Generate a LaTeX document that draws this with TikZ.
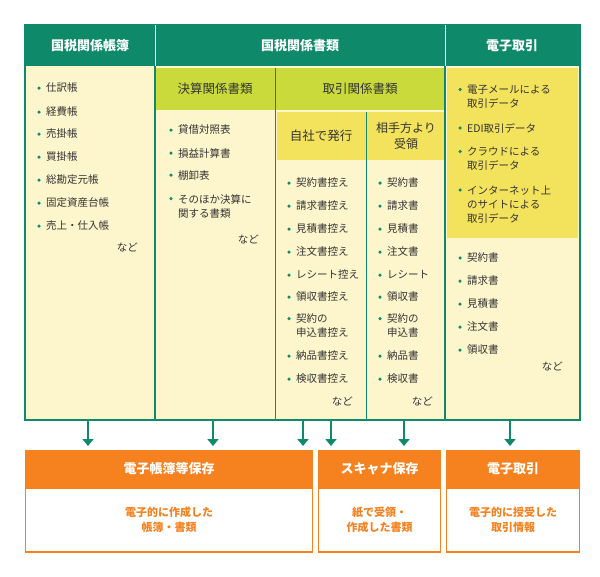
\documentclass[tikz,border=0pt]{standalone}
\usepackage{fontspec}
\usetikzlibrary{arrows.meta}
\setmainfont{Noto Sans CJK JP}
\definecolor{kgreen}{HTML}{0E8A6A}
\definecolor{kcream}{HTML}{FDF5CC}
\definecolor{klime}{HTML}{C9DA3A}
\definecolor{kyellow}{HTML}{F3E25C}
\definecolor{korange}{HTML}{F5821F}
\definecolor{ktext}{HTML}{333333}
\tikzset{
  head/.style={font=\fontsize{13}{15}\selectfont\bfseries, text=white},
  subhead/.style={font=\fontsize{12.5}{15}\selectfont, text=ktext},
  item/.style={font=\fontsize{10.5}{14}\selectfont, text=ktext, anchor=west, align=left, inner sep=0pt},
  nado/.style={font=\fontsize{10.5}{14}\selectfont, text=ktext, anchor=east, inner sep=0pt},
  bul/.style={circle, fill=kgreen, inner sep=0pt, minimum size=3.5pt},
  arr/.style={-{Triangle[length=7pt,width=11pt]}, kgreen, line width=2.5pt},
  ohead/.style={font=\fontsize{13}{15}\selectfont\bfseries, text=white},
  otext/.style={font=\fontsize{11}{15}\selectfont\bfseries, text=korange, align=center},
}
\begin{document}
\begin{tikzpicture}[x=1pt,y=-1pt]
  \useasboundingbox[fill=white] (0,0) rectangle (600,576);

  %bands
  \fill[kgreen] (25,25) rectangle (580,66);
  \fill[kcream] (25,66) rectangle (580,420);
  \fill[klime] (155,68) rectangle (445,110);
  \fill[kyellow] (277,112) rectangle (445,160);
  \fill[kyellow] (447,68) rectangle (578,238);
  \draw[kgreen, line width=1.5pt] (25,25) rectangle (580,420);
  \foreach \x in {155,445}{
    \draw[white, line width=1pt] (\x,25) -- (\x,66);
    \draw[kgreen, line width=1.5pt] (\x,66) -- (\x,420);
  }
  \draw[kgreen, line width=1pt] (275,68) -- (275,420);
  \draw[kgreen, line width=1pt] (366,112) -- (366,420);

  %headers
  \node[head] (h1) at (90,46) {国税関係帳簿};
  \node[head] (h2) at (300,46) {国税関係書類};
  \node[head] (h3) at (512,46) {電子取引};
  \node[subhead] (s1) at (215,89) {決算関係書類};
  \node[subhead] (s2) at (360,89) {取引関係書類};
  \node[subhead] (s3) at (321,136) {自社で発行};
  \node[subhead, align=center, font=\fontsize{12}{16}\selectfont] (s4) at (406,136) {相手方より\\受領};

  %items
  \foreach \y/\t in {88/仕訳帳,112/経費帳,134/売掛帳,157/買掛帳,180/総勘定元帳,203/固定資産台帳,226/売上・仕入帳}{
    \node[bul] at (39,\y) {};
    \node[item] at (46,\y) {\t};
  }
  \node[nado] (n1) at (138,247) {など};
  \foreach \y/\o/\t in {130/0/貸借対照表,153/0/損益計算書,175/0/棚卸表,206/7.5/{そのほか決算に\\関する書類}}{
    \node[bul] at (171,\y-\o) {};
    \node[item] at (178,\y) {\t};
  }
  \node[nado] (n2) at (259,239) {など};
  \foreach \y/\o/\t in {183/0/契約書控え,206/0/請求書控え,229/0/見積書控え,252/0/注文書控え,275/0/レシート控え,297/0/領収書控え,326/7.5/{契約の\\申込書控え},356/0/納品書控え,379/0/検収書控え}{
    \node[bul] at (289,\y-\o) {};
    \node[item] at (296,\y) {\t};
  }
  \node[nado] (n3) at (353,401) {など};
  \foreach \y/\o/\t in {183/0/契約書,206/0/請求書,229/0/見積書,252/0/注文書,275/0/レシート,297/0/領収書,326/7.5/{契約の\\申込書},356/0/納品書,379/0/検収書}{
    \node[bul] at (380,\y-\o) {};
    \node[item] at (387,\y) {\t};
  }
  \node[nado] (n4) at (433,401) {など};
  \foreach \y/\o/\t in {97/7.5/{電子メールによる\\取引データ},128/0/EDI取引データ,159/7.5/{クラウドによる\\取引データ},205/15/{インターネット上\\のサイトによる\\取引データ}}{
    \node[bul] at (460,\y-\o) {};
    \node[item] at (467,\y) {\t};
  }
  \foreach \y/\t in {258/契約書,281/請求書,304/見積書,327/注文書,350/領収書}{
    \node[bul] at (460,\y) {};
    \node[item] at (467,\y) {\t};
  }
  \node[nado] (n5) at (563,366) {など};

  %bottom boxes
  \foreach \a/\b/\nm/\hd/\tx in {25/313/b1/電子帳簿等保存/{電子的に作成した\\帳簿・書類},318/441/b2/スキャナ保存/{紙で受領・\\作成した書類},446/580/b3/電子取引/{電子的に授受した\\取引情報}}{
    \fill[korange] (\a,450) rectangle (\b,488);
    \draw[korange, line width=1.2pt, fill=white] (\a+0.6,488) rectangle (\b-0.6,552);
    \node[ohead] (\nm) at ({(\a+\b)/2},469) {\hd};
    \node[otext] (\nm t) at ({(\a+\b)/2},520) {\tx};
  }

  %arrows
  \foreach \x in {88,213,303,331,404,510}{
    \draw[arr] (\x,420) -- (\x,446);
  }
\end{tikzpicture}
\end{document}
